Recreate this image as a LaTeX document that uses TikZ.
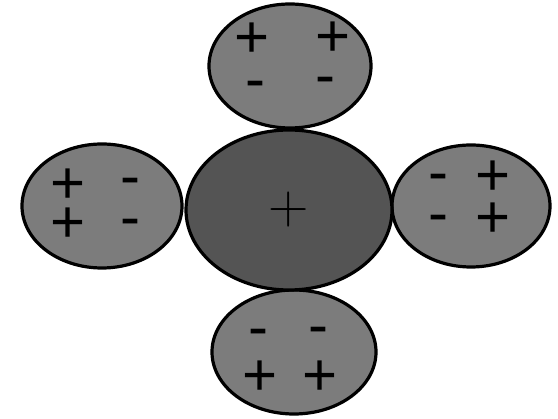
\documentclass[tikz,border=0pt]{standalone}
\usepackage{fontspec}
\setmainfont{Liberation Sans}
\newfontfamily\lmfont{Latin Modern Roman}
\usetikzlibrary{shapes.geometric, positioning}
\usepackage{xcolor}
\definecolor{shellgray}{RGB}{124,124,124}
\definecolor{coregray}{RGB}{84,84,84}

\begin{document}
\begin{tikzpicture}[x=1pt, y=-1pt,
        % Style for the outer charge clouds
        cloud/.style={ellipse, draw=black, line width=3.2pt, fill=shellgray, inner sep=0pt},
        % Style for the central nucleus
        core/.style={ellipse, draw=black, line width=3.2pt, fill=coregray, inner sep=0pt, minimum width=206pt, minimum height=160pt},
        % Styles for the charge signs
        plussign/.style={inner sep=0pt, font=\fontsize{60}{60}\selectfont, text height=31pt, text depth=-11pt},
        minussign/.style={inner sep=0pt, font=\fontsize{60}{60}\selectfont, text height=21pt, text depth=-11pt}
    ]
    \useasboundingbox (0,0) rectangle (558,419);

    % --- CLOUDS ---
    \node (top) [cloud, minimum width=162pt, minimum height=124pt] at (290,66) {};
    \node (left) [cloud, minimum width=160pt, minimum height=124pt] at (102,206) {};
    \node (right) [cloud, minimum width=158pt, minimum height=122pt] at (471,206) {};
    \node (bottom) [cloud, minimum width=164pt, minimum height=124pt] at (294,352) {};

    % --- CORE ---
    \node (nucleus) [core] at (289,210) {};
    \node (corepos) [inner sep=0pt, font=\lmfont\fontsize{56}{56}\selectfont] at (nucleus.center) {+};

    % --- SIGNS ---
    \node (tp1) [plussign] at (252,42) {+};
    \node (tp2) [plussign] at (333,41) {+};
    \node (tm1) [minussign] at (255,89) {-};
    \node (tm2) [minussign] at (325,85) {-};

    \node (lp1) [plussign] at (68,188) {+};
    \node (lp2) [plussign] at (68,227) {+};
    \node (lm1) [minussign] at (130,186) {-};
    \node (lm2) [minussign] at (130,227) {-};

    \node (rm1) [minussign] at (438,182) {-};
    \node (rm2) [minussign] at (438,223) {-};
    \node (rp1) [plussign] at (493,180) {+};
    \node (rp2) [plussign] at (493,222) {+};

    \node (bm1) [minussign] at (258,337) {-};
    \node (bm2) [minussign] at (318,335) {-};
    \node (bp1) [plussign] at (260,380) {+};
    \node (bp2) [plussign] at (320,380) {+};

\end{tikzpicture}
\end{document}
